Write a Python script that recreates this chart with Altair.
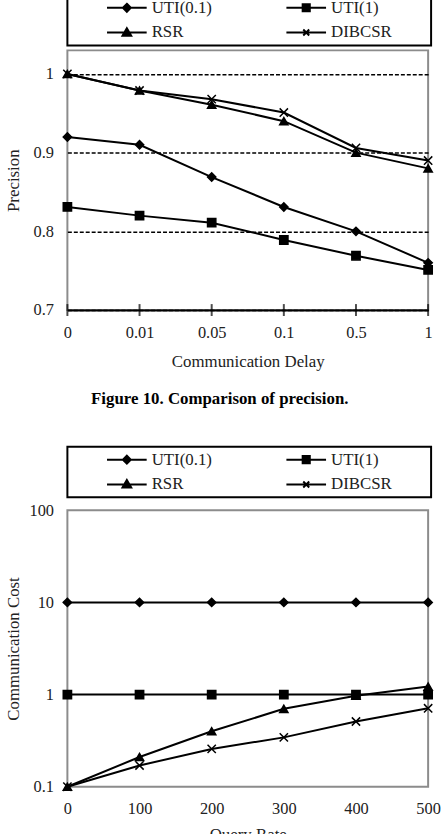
import altair as alt
import pandas as pd

# ---------------- data ----------------
series_names = ["UTI(0.1)", "UTI(1)", "RSR", "DIBCSR"]

delay_labels = ["0", "0.01", "0.05", "0.1", "0.5", "1"]
precision_uti01 = [0.920, 0.910, 0.869, 0.831, 0.800, 0.760]
precision_uti1 = [0.831, 0.820, 0.811, 0.789, 0.769, 0.751]
precision_rsr = [1.000, 0.979, 0.961, 0.940, 0.900, 0.880]
precision_dibcsr = [1.000, 0.979, 0.968, 0.951, 0.906, 0.890]
precision_ticks = [0.7, 0.8, 0.9, 1.0]

query_rates = [0, 100, 200, 300, 400, 500]
cost_uti01 = [10, 10, 10, 10, 10, 10]
cost_uti1 = [1, 1, 1, 1, 1, 1]
cost_rsr = [0.10, 0.21, 0.40, 0.70, 0.97, 1.22]
cost_dibcsr = [0.10, 0.17, 0.257, 0.343, 0.51, 0.71]
cost_ticks = [0.1, 1, 10, 100]
rate_ticks = [0, 100, 200, 300, 400, 500]

caption_text = "Figure 10. Comparison of precision."

# ---------------- style ----------------
FONT = "Liberation Serif"
TXT = "#222222"
BLANK = "\u2800"  # blank glyph (not trimmed as whitespace) used to pad the legend box

marker_shapes = ["diamond", "square", "triangle-up", "M-1,-1L1,1M-1,1L1,-1"]
legend_shapes = [
    "M-1,0H1M0,-0.2L0.2,0L0,0.2L-0.2,0Z",
    "M-1,0H1M-0.18,-0.18H0.18V0.18H-0.18Z",
    "M-1,0H1M0,-0.22L0.22,0.16H-0.22Z",
    "M-1,0H1M-0.15,-0.15L0.15,0.15M-0.15,0.15L0.15,-0.15",
]

prec_df = pd.DataFrame(
    [
        {"delay": d, "series": s, "value": v}
        for s, vals in zip(series_names, [precision_uti01, precision_uti1, precision_rsr, precision_dibcsr])
        for d, v in zip(delay_labels, vals)
    ]
)
cost_df = pd.DataFrame(
    [
        {"rate": r, "series": s, "value": v}
        for s, vals in zip(series_names, [cost_uti01, cost_uti1, cost_rsr, cost_dibcsr])
        for r, v in zip(query_rates, vals)
    ]
)
tick_df = pd.DataFrame({"delay": delay_labels})


def make_legend(offset):
    return alt.Legend(
        title=BLANK * 3,
        titleOrient="left",
        titleFontSize=16,
        titleFont=FONT,
        titlePadding=0,
        orient="top",
        offset=offset,
        columns=2,
        columnPadding=38,
        rowPadding=5,
        clipHeight=20,
        symbolSize=1600,
        symbolStrokeWidth=2,
        labelOffset=4,
        labelFont=FONT,
        labelFontSize=17,
        labelColor=TXT,
        labelLimit=300,
        labelExpr=f"datum.label + '{BLANK * 3}'",
        padding=3,
        strokeColor="black",
    )


# ---------------- top chart: precision ----------------
x_top = alt.X(
    "delay:O",
    sort=delay_labels,
    scale=alt.Scale(type="point", padding=0),
    axis=alt.Axis(
        title="Communication Delay",
        labelAngle=0,
        domainColor="black",
        domainWidth=2,
        ticks=False,
        grid=False,
        labelPadding=15,
        titlePadding=12,
    ),
)
y_top = alt.Y(
    "value:Q",
    scale=alt.Scale(domain=[0.7, 1.03], nice=False, zero=False),
    axis=alt.Axis(
        title="Precision",
        values=precision_ticks,
        format="~g",
        domain=False,
        ticks=False,
        grid=True,
        gridColor="black",
        gridDash=[4, 2],
        gridWidth=1.5,
        labelPadding=14,
        titlePadding=11,
    ),
)

top_lines = alt.Chart(prec_df).mark_line(color="black", strokeWidth=2).encode(
    x=x_top, y=y_top, detail="series:N"
)
top_points = alt.Chart(prec_df).mark_point(
    filled=True, size=70, color="black", stroke="black", strokeWidth=1.5, opacity=1
).encode(
    x=x_top,
    y=y_top,
    shape=alt.Shape("series:N", scale=alt.Scale(domain=series_names, range=marker_shapes), legend=None),
)
top_legend = (
    alt.Chart(prec_df)
    .transform_calculate(key="datum.series")
    .transform_filter("false")
    .mark_point(filled=True, color="black", stroke="black", strokeWidth=2, opacity=1)
    .encode(
        x=x_top,
        y=y_top,
        shape=alt.Shape("key:N", scale=alt.Scale(domain=series_names, range=legend_shapes), legend=make_legend(5)),
    )
)
top_ticks = alt.Chart(tick_df).mark_tick(orient="vertical", size=12, thickness=2, color="black").encode(
    x=x_top, y=alt.datum(0.7)
)

top = (
    alt.layer(top_lines, top_ticks, top_points, top_legend)
    .resolve_scale(shape="independent")
    .properties(
        width=364,
        height=262,
        title=alt.TitleParams(
            caption_text,
            orient="bottom",
            anchor="middle",
            frame="bounds",
            font=FONT,
            fontSize=17,
            fontWeight="bold",
            color="black",
            offset=22,
        ),
    )
)

# ---------------- bottom chart: communication cost ----------------
x_bot = alt.X(
    "rate:Q",
    scale=alt.Scale(domain=[0, 500], nice=False),
    axis=alt.Axis(
        title="Query Rate",
        values=rate_ticks,
        format="d",
        domain=False,
        ticks=False,
        grid=False,
        labelFlush=False,
        labelPadding=14,
        titlePadding=10,
    ),
)
y_bot = alt.Y(
    "value:Q",
    scale=alt.Scale(type="log", domain=[0.1, 100], nice=False),
    axis=alt.Axis(
        title="Communication Cost",
        values=cost_ticks,
        format="~g",
        domain=False,
        ticks=False,
        grid=False,
        labelPadding=14,
        titlePadding=7,
    ),
)

bot_lines = alt.Chart(cost_df).mark_line(color="black", strokeWidth=2).encode(
    x=x_bot, y=y_bot, detail="series:N"
)
bot_points = alt.Chart(cost_df).mark_point(
    filled=True, size=70, color="black", stroke="black", strokeWidth=1.5, opacity=1
).encode(
    x=x_bot,
    y=y_bot,
    shape=alt.Shape("series:N", scale=alt.Scale(domain=series_names, range=marker_shapes), legend=None),
)
bot_legend = (
    alt.Chart(cost_df)
    .transform_calculate(key="datum.series")
    .transform_filter("false")
    .mark_point(filled=True, color="black", stroke="black", strokeWidth=2, opacity=1)
    .encode(
        x=x_bot,
        y=y_bot,
        shape=alt.Shape("key:N", scale=alt.Scale(domain=series_names, range=legend_shapes), legend=make_legend(13)),
    )
)

bottom = (
    alt.layer(bot_lines, bot_points, bot_legend)
    .resolve_scale(shape="independent")
    .properties(width=364, height=279)
)

chart = (
    alt.vconcat(top, bottom, spacing=37)
    .properties(padding={"top": -11, "left": 3, "right": 0, "bottom": 0}, background="white")
    .configure_view(stroke="#8c8c8c", strokeWidth=2)
    .configure_axis(
        labelFont=FONT,
        titleFont=FONT,
        labelFontSize=16.5,
        titleFontSize=17,
        labelColor=TXT,
        titleColor=TXT,
        titleFontWeight="normal",
    )
    .configure_legend(strokeWidth=2)
)

chart.save("out.html", embed_options={"renderer": "svg", "actions": False})
